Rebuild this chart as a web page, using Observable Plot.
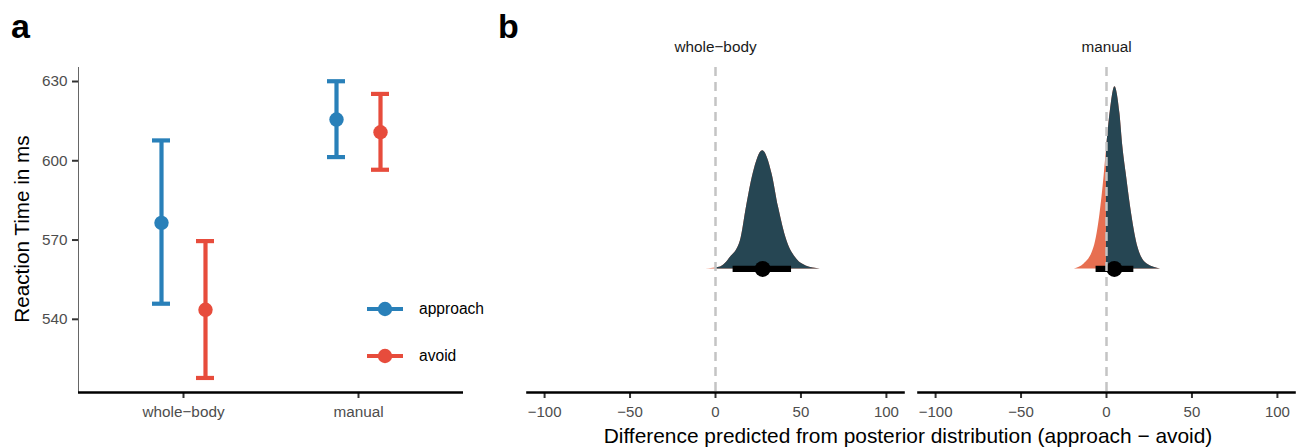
<!DOCTYPE html>
<html>
<head>
<meta charset="utf-8">
<script src="https://cdn.jsdelivr.net/npm/d3@7"></script>
<script src="https://cdn.jsdelivr.net/npm/@observablehq/plot@0.6"></script>
<style>
  html, body { margin: 0; padding: 0; background: white; }
  #root { position: relative; width: 1304px; height: 447px; overflow: hidden; font-family: "Liberation Sans", Arial, Helvetica, sans-serif; }
  .abs { position: absolute; }
  .panel-letter { font-weight: bold; font-size: 34px; color: #000; line-height: 1; }
</style>
</head>
<body>
<div id="root"></div>
<script>
// ---------------- DATA ----------------
// Panel a: reaction times (ms), mean and interval per condition
const categories = ["whole-body", "manual"];
const approachMean = [576.5, 615.6];
const approachLow  = [545.9, 601.4];
const approachHigh = [607.7, 630.1];
const avoidMean = [543.6, 610.8];
const avoidLow  = [517.8, 596.6];
const avoidHigh = [569.6, 625.3];
const yTicksA = [540, 570, 600, 630];

// Panel b: posterior difference (approach - avoid), density
const wholeBodyDiff = [-5.8, 3, 8.75, 14.6, 18.1, 22.0, 27.6, 33.1, 36.9, 41.8, 46.7, 53, 61.3];
const wholeBodyDens = [0, 0.0008, 0.0047, 0.0115, 0.0251, 0.0387, 0.0482, 0.0387, 0.0251, 0.0115, 0.0047, 0.0012, 0];
const manualDiff = [-18.8, -13.1, -7.3, -3.8, -1.46, 0.12, 2.04, 4.96, 7.87, 9.6, 11.8, 14.7, 18.4, 23.8, 31.6];
const manualDens = [0, 0.0020, 0.0088, 0.0224, 0.0374, 0.0496, 0.0632, 0.0743, 0.0632, 0.0496, 0.0374, 0.0224, 0.0088, 0.0020, 0];
const diffMedian = [27.6, 4.6];
const diffLow    = [10.3, -6.1];
const diffHigh   = [44.5, 16.0];
const xTicksB = [-100, -50, 0, 50, 100];

// ---------------- TABLES ----------------
const condA = categories.map((c, i) => ({cat: c, mean: approachMean[i], lo: approachLow[i], hi: approachHigh[i]}));
const condB = categories.map((c, i) => ({cat: c, mean: avoidMean[i], lo: avoidLow[i], hi: avoidHigh[i]}));
const densTables = [
  wholeBodyDiff.map((v, i) => ({v, d: wholeBodyDens[i]})),
  manualDiff.map((v, i) => ({v, d: manualDens[i]}))
];

const BLUE = "#2980B9", RED = "#E74C3C";
const DARK = "#264653", ORANGE = "#E76F51";
const FONT = "'Liberation Sans', Arial, Helvetica, sans-serif";
const showLabel = (s) => String(s).replace("-", "\u2212");
const root = document.getElementById("root");

function place(el, left, top) {
  const w = document.createElement("div");
  w.className = "abs";
  w.style.left = left + "px";
  w.style.top = top + "px";
  w.appendChild(el);
  root.appendChild(w);
  return w;
}

// ---------------- PANEL A ----------------
function groupMarks(data, color, dx) {
  return [
    Plot.ruleX(data, {x: "cat", y1: "lo", y2: "hi", stroke: color, strokeWidth: 4.2, dx}),
    Plot.ruleY(data, {x1: "cat", x2: "cat", y: "lo", stroke: color, strokeWidth: 4.2, insetLeft: -9, insetRight: -9, dx}),
    Plot.ruleY(data, {x1: "cat", x2: "cat", y: "hi", stroke: color, strokeWidth: 4.2, insetLeft: -9, insetRight: -9, dx}),
    Plot.dot(data, {x: "cat", y: "mean", r: 7.2, fill: color, stroke: "none", dx})
  ];
}
const yDomainA = [512.3, 635.3];
const plotA = Plot.plot({
  width: 490, height: 447,
  marginLeft: 78, marginRight: 27, marginTop: 67, marginBottom: 55,
  style: {fontFamily: FONT, fontSize: "15px", background: "transparent", overflow: "visible"},
  x: {type: "point", domain: categories, padding: 0.6, label: null},
  y: {domain: yDomainA, label: null},
  marks: [
    Plot.frame({anchor: "left", stroke: "#666", strokeWidth: 1}),
    Plot.axisY({ticks: yTicksA, tickSize: 6, tickPadding: 5, stroke: "#333", strokeWidth: 2, fill: "#4d4d4d", fontSize: 15.3, label: null}),
    Plot.axisX({tickSize: 6, tickPadding: 8, tickFormat: showLabel, stroke: "#333", strokeWidth: 2, fill: "#4d4d4d", fontSize: 15.3, label: null}),
    Plot.ruleY([yDomainA[0]], {stroke: "black", strokeWidth: 2.6}),
    ...groupMarks(condA, BLUE, -22),
    ...groupMarks(condB, RED, 22)
  ]
});
place(plotA, 0, 0);

// y title panel a
const yTitle = document.createElement("div");
yTitle.textContent = "Reaction Time in ms";
Object.assign(yTitle.style, {fontSize: "20.7px", color: "#000", whiteSpace: "nowrap", transform: "translate(-50%, -50%) rotate(-90deg)", fontFamily: FONT, display: "inline-block"});
place(yTitle, 22, 229);

// legend panel a
const leg = d3.create("svg").attr("width", 140).attr("height", 90);
[["approach", BLUE, 19], ["avoid", RED, 66]].forEach(([lab, col, y]) => {
  leg.append("line").attr("x1", 7).attr("x2", 43).attr("y1", y).attr("y2", y).attr("stroke", col).attr("stroke-width", 4.2);
  leg.append("circle").attr("cx", 25).attr("cy", y).attr("r", 7.2).attr("fill", col);
  leg.append("text").attr("x", 59).attr("y", y).attr("dy", "0.35em").attr("font-size", 15.6).attr("font-family", FONT).attr("fill", "#000").text(lab);
});
place(leg.node(), 360, 290);

// ---------------- PANEL B ----------------
function clipToPositive(index, scales, values, dimensions, context, next) {
  const g = next(index, scales, values, dimensions, context);
  const id = "clip-" + Math.random().toString(36).slice(2);
  const x0 = scales.x(0);
  const cp = d3.select(g).insert("clipPath", ":first-child").attr("id", id);
  cp.append("rect").attr("x", x0).attr("y", 0).attr("width", dimensions.width - x0).attr("height", dimensions.height);
  d3.select(g).selectAll("path").attr("clip-path", `url(#${id})`);
  return g;
}

function facet(i, width, marginLeft, marginRight) {
  const stats = [{med: diffMedian[i], lo: diffLow[i], hi: diffHigh[i]}];
  return Plot.plot({
    width, height: 447,
    marginLeft, marginRight, marginTop: 67, marginBottom: 55,
    style: {fontFamily: FONT, fontSize: "15px", background: "transparent", overflow: "visible"},
    x: {domain: [-110, 110], label: null},
    y: {domain: [-0.0504, 0.0821], axis: null},
    marks: [
      Plot.axisX({ticks: xTicksB, tickFormat: d3.format("d"), tickSize: 6, tickPadding: 8, stroke: "#333", strokeWidth: 2, fill: "#4d4d4d", fontSize: 15, label: null}),
      Plot.frame({anchor: "bottom", stroke: "black", strokeWidth: 2.6}),
      Plot.areaY(densTables[i], {x: "v", y: "d", fill: ORANGE, curve: "monotone-x"}),
      Plot.areaY(densTables[i], {x: "v", y: "d", fill: DARK, curve: "monotone-x", render: clipToPositive}),
      Plot.ruleY(stats, {x1: "lo", x2: "hi", y: () => 0, stroke: "black", strokeWidth: 6.3}),
      Plot.dot(stats, {x: "med", y: () => 0, r: 8, fill: "black", stroke: "none"}),
      Plot.ruleX([0], {stroke: "#c4c4c4", strokeWidth: 2.5, strokeDasharray: "9,6"}),
      Plot.text([categories[i]], {text: (d) => showLabel(d), frameAnchor: "top", lineAnchor: "middle", dy: -20, fontSize: 15.3, fill: "#1a1a1a"})
    ]
  });
}
place(facet(0, 410, 27, 7), 500, 0);
place(facet(1, 394, 8, 10), 910, 0);

// x title panel b
const xTitle = document.createElement("div");
xTitle.textContent = "Difference predicted from posterior distribution (approach \u2212 avoid)";
Object.assign(xTitle.style, {fontSize: "20.9px", color: "#000", whiteSpace: "nowrap", transform: "translateX(-50%)", fontFamily: FONT, lineHeight: "1"});
place(xTitle, 908, 426);

// panel letters
const la = document.createElement("div"); la.className = "panel-letter"; la.textContent = "a";
place(la, 11, 9);
const lb = document.createElement("div"); lb.className = "panel-letter"; lb.textContent = "b";
place(lb, 498, 9);
</script>
</body>
</html>
